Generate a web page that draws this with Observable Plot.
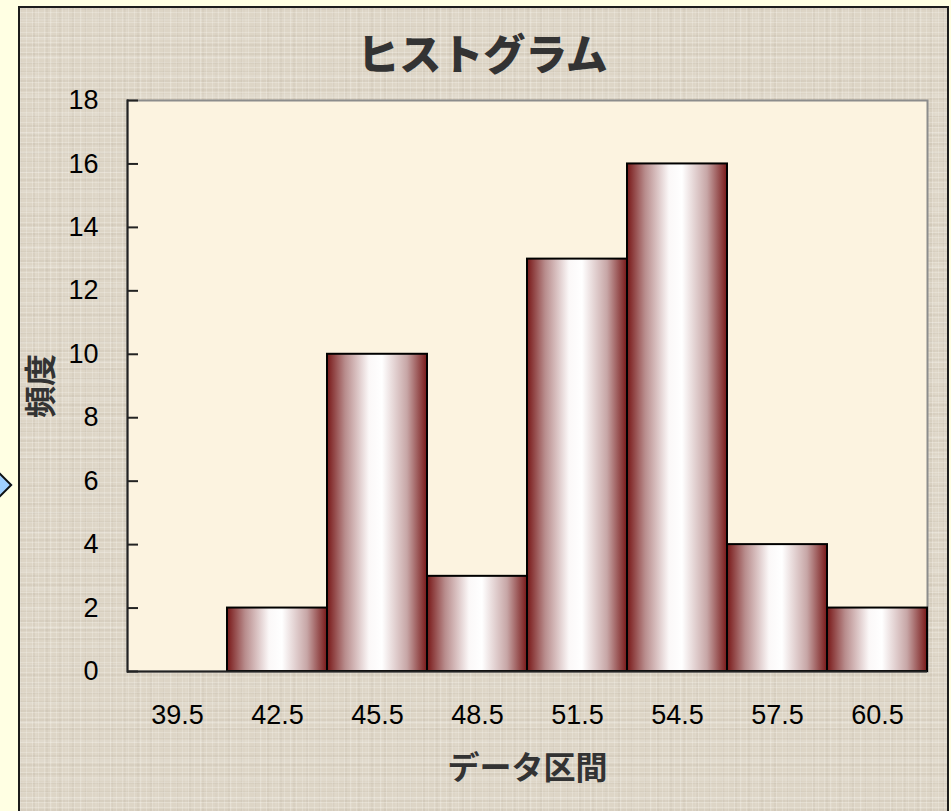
<!DOCTYPE html>
<html>
<head>
<meta charset="utf-8">
<script src="https://cdn.jsdelivr.net/npm/d3@7"></script>
<script src="https://cdn.jsdelivr.net/npm/@observablehq/plot@0.6"></script>
<style>
  html, body { margin: 0; padding: 0; width: 951px; height: 811px; overflow: hidden; background: #FFFFE3; }
  #panel {
    position: absolute; left: 18px; top: 6px; width: 927px; height: 830px;
    border: 2px solid #1c1c1c;
    background-color: #ddd5c6;
    background-image:
      repeating-linear-gradient(0deg, rgba(255,255,250,0.22) 0 1px, transparent 1px 5px),
      repeating-linear-gradient(90deg, rgba(255,255,250,0.20) 0 1px, transparent 1px 6px),
      repeating-linear-gradient(0deg, rgba(120,105,85,0.06) 0 2px, transparent 2px 9px),
      repeating-linear-gradient(90deg, rgba(120,105,85,0.05) 0 2px, transparent 2px 13px),
      repeating-linear-gradient(0deg, rgba(255,255,255,0.10) 0 3px, transparent 3px 19px),
      repeating-linear-gradient(90deg, rgba(255,255,255,0.08) 0 2px, transparent 2px 15px);
  }
  #diamond {
    position: absolute; left: -14px; top: 474px; width: 18px; height: 18px;
    background: #9fd0ff; border: 2px solid #111; transform: rotate(45deg);
  }
  #chart { position: absolute; left: 0; top: 0; }
</style>
</head>
<body>
<div id="panel"></div>
<div id="diamond"></div>
<div id="chart"></div>
<script>
// ---- data ----
const categories = ["39.5", "42.5", "45.5", "48.5", "51.5", "54.5", "57.5", "60.5"];
const frequencies = [0, 2, 10, 3, 13, 16, 4, 2];
const yTicks = [0, 2, 4, 6, 8, 10, 12, 14, 16, 18];
const titleText = "ヒストグラム";
const xLabelText = "データ区間";
const yLabelText = "頻度";

const data = categories.map((c, i) => ({bin: c, count: frequencies[i]}));

const boldFont = "'Noto Sans CJK JP', sans-serif";
const tickFont = "'Liberation Sans', Arial, sans-serif";

const plot = Plot.plot({
  width: 951,
  height: 811,
  marginLeft: 127,
  marginRight: 24,
  marginTop: 100,
  marginBottom: 140,
  style: {
    background: "transparent",
    fontFamily: tickFont,
    fontSize: "27px",
    color: "#000",
    overflow: "visible"
  },
  x: {domain: categories, padding: 0, label: null},
  y: {domain: [0, 18], label: null},
  marks: [
    Plot.frame({fill: "#FCF3E0", stroke: "#8c8c8c", strokeWidth: 2}),
    Plot.barY(data, {x: "bin", y: "count", fill: "url(#barGrad)", stroke: "#000", strokeWidth: 2}),
    // inward tick marks on the y axis
    Plot.axisY({ticks: yTicks, tickSize: 11, dx: 11, stroke: "#222", strokeWidth: 2, tickFormat: () => "", label: null}),
    Plot.ruleY([0], {stroke: "#222", strokeWidth: 2}),
    Plot.frame({anchor: "left", stroke: "#222", strokeWidth: 2}),
    Plot.axisY({ticks: yTicks, tickSize: 0, tickPadding: 29, fontSize: 27, fontFamily: tickFont, fill: "#000", tickFormat: d => String(d), label: null}),
    Plot.axisX({tickSize: 0, tickPadding: 33, fontSize: 27, fontFamily: tickFont, fill: "#000", label: null}),
    Plot.text([titleText], {frameAnchor: "top", lineAnchor: "middle", textAnchor: "middle", dy: -44, dx: -45, fontSize: 42, fontWeight: 900, fontFamily: boldFont, fill: "#333"}),
    Plot.text([xLabelText], {frameAnchor: "bottom", lineAnchor: "middle", textAnchor: "middle", dy: 97, fontSize: 32, fontWeight: 700, fontFamily: boldFont, fill: "#333"}),
    Plot.text([yLabelText], {frameAnchor: "left", lineAnchor: "middle", textAnchor: "middle", dx: -86, rotate: -90, fontSize: 32, fontWeight: 700, fontFamily: boldFont, fill: "#333"})
  ]
});

// gradient for the bars
const defs = d3.select(plot).insert("defs", ":first-child");
const grad = defs.append("linearGradient").attr("id", "barGrad")
  .attr("x1", 0).attr("x2", 1).attr("y1", 0).attr("y2", 0);
[[0, "#781818"], [0.18, "#b88c8c"], [0.42, "#fbf8f8"], [0.55, "#ffffff"], [0.8, "#c7a6a6"], [1, "#781818"]]
  .forEach(([o, c]) => grad.append("stop").attr("offset", o).attr("stop-color", c));

d3.select(plot).selectAll("[aria-label='x-axis tick-label'] text, [aria-label='y-axis tick-label'] text")
  .style("letter-spacing", "2px");

document.getElementById("chart").appendChild(plot);
</script>
</body>
</html>
